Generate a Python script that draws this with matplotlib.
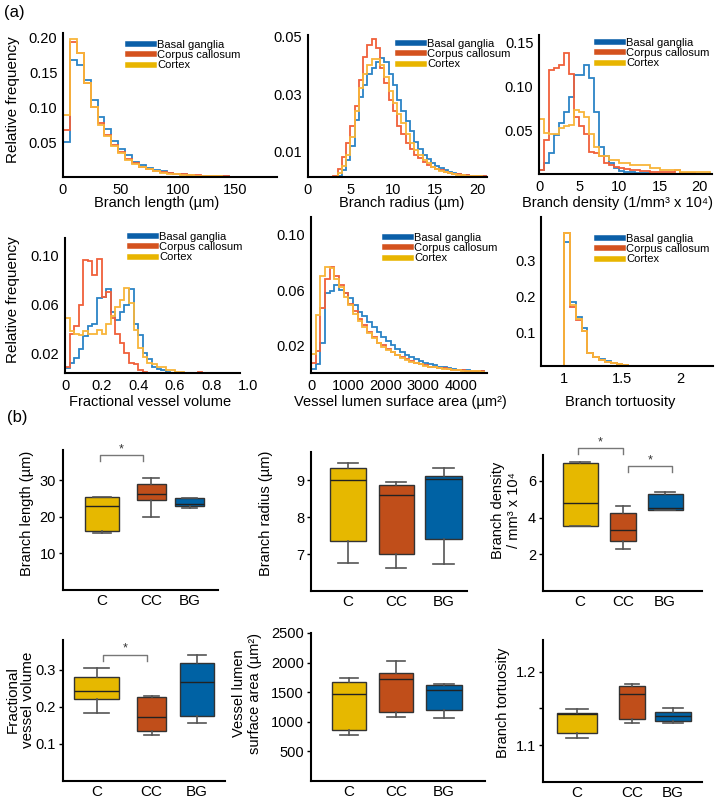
import numpy as np
import matplotlib.pyplot as plt
from matplotlib.lines import Line2D

plt.rcParams['font.family'] = ['Liberation Sans', 'DejaVu Sans']

# ---------------- data: histograms (relative frequency per bin) ----------------
groups = ['Basal ganglia', 'Corpus callosum', 'Cortex']

length_bins = (0, 6)  # start, width (um)
length_bg = [0.050, 0.168, 0.160, 0.139, 0.110, 0.086, 0.068, 0.051, 0.040, 0.031, 0.022, 0.017, 0.013, 0.010, 0.008,
             0.006, 0.005, 0.004, 0.003, 0.002, 0.002, 0.0015, 0.001, 0.001, 0.0007, 0.0005, 0.0004, 0.0003, 0.0002, 0.0002]
length_cc = [0.067, 0.193, 0.177, 0.134, 0.100, 0.077, 0.060, 0.046, 0.036, 0.026, 0.020, 0.015, 0.012, 0.009, 0.007,
             0.006, 0.005, 0.004, 0.003, 0.0025, 0.002, 0.0015, 0.001, 0.001, 0.0007, 0.0005, 0.0004, 0.0003, 0.0002, 0.0002]
length_cx = [0.089, 0.197, 0.178, 0.135, 0.100, 0.075, 0.058, 0.044, 0.034, 0.025, 0.019, 0.015, 0.011, 0.008, 0.006,
             0.005, 0.004, 0.003, 0.0025, 0.002, 0.0015, 0.001, 0.001, 0.0007, 0.0005, 0.0004, 0.0003, 0.0002, 0.0002, 0.0001]

radius_bins = (2.5, 0.5)
radius_bg = [0.0001, 0.0005, 0.0015, 0.0035, 0.007, 0.012, 0.021, 0.029, 0.033, 0.037, 0.039, 0.041, 0.0425, 0.041,
             0.037, 0.033, 0.028, 0.024, 0.0205, 0.017, 0.0135, 0.011, 0.009, 0.0073, 0.006, 0.005, 0.0043, 0.0036,
             0.003, 0.0026, 0.0023, 0.002, 0.0018, 0.0017, 0.0016, 0.0015, 0.0014]
radius_cc = [0.0005, 0.0015, 0.004, 0.008, 0.013, 0.019, 0.026, 0.035, 0.043, 0.047, 0.049, 0.046, 0.039, 0.034,
             0.028, 0.024, 0.019, 0.016, 0.013, 0.011, 0.009, 0.0078, 0.0065, 0.0055, 0.0047, 0.004, 0.0035, 0.003,
             0.0027, 0.0024, 0.0022, 0.002, 0.0018, 0.0017, 0.0016, 0.0015, 0.0014]
radius_cx = [0.0002, 0.001, 0.0025, 0.005, 0.009, 0.015, 0.024, 0.032, 0.037, 0.040, 0.042, 0.042, 0.040, 0.036,
             0.031, 0.027, 0.023, 0.020, 0.016, 0.013, 0.0105, 0.0088, 0.0072, 0.006, 0.0048, 0.004, 0.0034, 0.0029,
             0.0025, 0.0022, 0.002, 0.0018, 0.0017, 0.0016, 0.0015, 0.0014, 0.0013]

density_bins = (0, 0.625)
density_bg = [0.006, 0.013, 0.025, 0.045, 0.059, 0.072, 0.089, 0.114, 0.114, 0.125, 0.110, 0.072, 0.032, 0.021, 0.013,
              0.008, 0.004, 0.003, 0.003, 0.002, 0.002, 0.002, 0.001, 0.001, 0.001, 0.001, 0.001, 0.001, 0.001, 0.0005,
              0.0005, 0.0005, 0.0005, 0.0005]
density_cc = [0.006, 0.040, 0.119, 0.121, 0.125, 0.138, 0.115, 0.066, 0.055, 0.047, 0.026, 0.025, 0.021, 0.013, 0.011,
              0.009, 0.008, 0.007, 0.006, 0.005, 0.004, 0.004, 0.003, 0.003, 0.003, 0.003, 0.003, 0.005, 0.002, 0.002,
              0.002, 0.001, 0.001, 0.001]
density_cx = [0.064, 0.048, 0.047, 0.047, 0.053, 0.055, 0.057, 0.074, 0.072, 0.066, 0.047, 0.032, 0.021, 0.021, 0.017,
              0.017, 0.013, 0.013, 0.011, 0.011, 0.011, 0.011, 0.0076, 0.0076, 0.005, 0.005, 0.005, 0.005, 0.003, 0.003,
              0.003, 0.003, 0.003, 0.003]

volume_bins = (0, 0.025)
volume_bg = [0.008, 0.012, 0.016, 0.023, 0.034, 0.042, 0.044, 0.065, 0.066, 0.072, 0.054, 0.047, 0.054, 0.059, 0.072,
             0.044, 0.035, 0.020, 0.015, 0.009, 0.007, 0.006, 0.005, 0.004, 0.004, 0.004, 0.004, 0.0035, 0.0035, 0.003,
             0.003, 0.003, 0.002, 0.002, 0.002, 0.002, 0.002, 0.002]
volume_cc = [0.009, 0.036, 0.042, 0.059, 0.096, 0.095, 0.084, 0.097, 0.066, 0.070, 0.049, 0.036, 0.028, 0.020, 0.012,
             0.011, 0.0065, 0.005, 0.004, 0.004, 0.004, 0.0035, 0.003, 0.003, 0.003, 0.003, 0.003, 0.003, 0.003, 0.005,
             0.004, 0.003, 0.002, 0.002, 0.002, 0.002, 0.002, 0.002]
volume_cx = [0.049, 0.038, 0.036, 0.035, 0.038, 0.036, 0.036, 0.039, 0.036, 0.044, 0.050, 0.058, 0.063, 0.073, 0.061,
             0.039, 0.024, 0.017, 0.012, 0.011, 0.009, 0.009, 0.0065, 0.0065, 0.005, 0.005, 0.004, 0.004, 0.004, 0.0035,
             0.0035, 0.0035, 0.003, 0.003, 0.003, 0.002, 0.002, 0.002]

area_bins = (0, 125)
area_bg = [0.003, 0.0067, 0.022, 0.058, 0.0595, 0.064, 0.060, 0.058, 0.054, 0.049, 0.044, 0.041, 0.037, 0.033, 0.030,
           0.026, 0.023, 0.020, 0.0176, 0.015, 0.0132, 0.0115, 0.0098, 0.0086, 0.0074, 0.0064, 0.0055, 0.0047, 0.004,
           0.0035, 0.003, 0.0025, 0.0023, 0.002, 0.0018, 0.0016, 0.0013]
area_cc = [0.007, 0.016, 0.047, 0.068, 0.077, 0.070, 0.064, 0.058, 0.050, 0.045, 0.039, 0.035, 0.030, 0.026, 0.022,
           0.020, 0.0176, 0.015, 0.013, 0.0115, 0.0098, 0.0086, 0.0074, 0.0064, 0.0055, 0.0047, 0.0042, 0.0038, 0.0033,
           0.0028, 0.0025, 0.0023, 0.002, 0.0018, 0.0016, 0.0013, 0.0011]
area_cx = [0.014, 0.042, 0.070, 0.077, 0.076, 0.068, 0.062, 0.055, 0.049, 0.043, 0.038, 0.033, 0.029, 0.025, 0.022,
           0.019, 0.017, 0.015, 0.013, 0.011, 0.0095, 0.0083, 0.0072, 0.0062, 0.0054, 0.0047, 0.0041, 0.0036, 0.0031,
           0.0027, 0.0024, 0.0021, 0.0018, 0.0016, 0.0014, 0.0012, 0.001]

tort_bins = (1.0, 0.05)
tort_bg = [0.352, 0.185, 0.144, 0.112, 0.045, 0.033, 0.026, 0.021, 0.017, 0.013, 0.010, 0.008, 0.007, 0.006, 0.005,
           0.004, 0.004, 0.003, 0.003, 0.003, 0.002, 0.002, 0.001, 0.001, 0.001]
tort_cc = [0.377, 0.172, 0.136, 0.104, 0.043, 0.033, 0.025, 0.020, 0.016, 0.013, 0.010, 0.008, 0.007, 0.005, 0.005,
           0.006, 0.003, 0.003, 0.003, 0.003, 0.002, 0.002, 0.001, 0.001, 0.001]
tort_cx = [0.375, 0.178, 0.139, 0.106, 0.044, 0.032, 0.025, 0.020, 0.016, 0.013, 0.010, 0.008, 0.006, 0.005, 0.004,
           0.004, 0.003, 0.003, 0.003, 0.003, 0.002, 0.002, 0.001, 0.001, 0.001]

# ---------------- data: box plots (whislo, q1, med, q3, whishi) for C, CC, BG ----------------
categories = ['C', 'CC', 'BG']
box_length = [[15.5, 16.2, 23.0, 25.3, 25.5], [20.0, 24.6, 26.3, 29.0, 30.5], [22.4, 22.8, 23.6, 25.0, 25.2]]
box_radius = [[6.75, 7.36, 9.0, 9.32, 9.45], [6.61, 7.0, 8.61, 8.87, 8.94], [6.73, 7.42, 9.03, 9.11, 9.32]]
box_density = [[3.54, 3.54, 4.78, 6.95, 7.05], [2.29, 2.74, 3.32, 4.27, 4.63], [4.41, 4.41, 4.5, 5.27, 5.41]]
box_volume = [[0.185, 0.222, 0.244, 0.282, 0.305], [0.124, 0.136, 0.172, 0.228, 0.230], [0.156, 0.176, 0.268, 0.318, 0.340]]
box_area = [[780, 864, 1469, 1673, 1741], [1073, 1169, 1724, 1825, 2022], [1062, 1203, 1542, 1616, 1639]]
box_tort = [[1.110, 1.116, 1.142, 1.144, 1.149], [1.130, 1.136, 1.169, 1.181, 1.183], [1.130, 1.133, 1.140, 1.145, 1.151]]

# ---------------- styling ----------------
W, H = 720, 801
line_cols = ['#2b84c6', '#f0603a', '#f8b53a']
patch_cols = ['#0b5fa8', '#d4521e', '#e8b500']
box_cols = ['#e6b800', '#c04e1a', '#0062a4']

fig = plt.figure(figsize=(W / 100, H / 100), dpi=100)


def add_ax(l, t, r, b):
    return fig.add_axes([l / W, 1 - b / H, (r - l) / W, (b - t) / H])


def ftext(x, y, s, **kw):
    fig.text(x / W, 1 - y / H, s, **kw)


def hist_panel(rect, bins, series, xlim, ylim, xticks, xticklabels, yticks, yticklabels, leg_xy):
    ax = add_ax(*rect)
    start, width = bins
    for vals, col in zip(series, line_cols):
        edges = start + width * np.arange(len(vals) + 1)
        ax.stairs(vals, edges, color=col, lw=1.3)
    ax.set_xlim(*xlim)
    ax.set_ylim(*ylim)
    ax.set_xticks(xticks, xticklabels)
    ax.set_yticks(yticks, yticklabels)
    ax.tick_params(length=0, labelsize=10.5, pad=4)
    for s in ['top', 'right']:
        ax.spines[s].set_visible(False)
    for s in ['left', 'bottom']:
        ax.spines[s].set_linewidth(1.5)
    handles = [Line2D([], [], color=c, lw=4) for c in patch_cols]
    ax.legend(handles, groups, loc='upper left', bbox_to_anchor=(leg_xy[0] / W, 1 - leg_xy[1] / H),
              bbox_transform=fig.transFigure, frameon=False, fontsize=8, handlelength=2.3,
              handletextpad=0.3, labelspacing=0.02, borderpad=0, borderaxespad=0)
    return ax


def box_panel(rect, stats, centers, widths, ylim, yticks, yticklabels):
    l, t, r, b = rect
    ax = add_ax(*rect)
    bstats = [dict(whislo=s[0], q1=s[1], med=s[2], q3=s[3], whishi=s[4], fliers=[]) for s in stats]
    pos = [c - l for c in centers]
    art = ax.bxp(bstats, positions=pos, widths=widths, capwidths=[w * 0.55 for w in widths],
                 patch_artist=True, showfliers=False,
                 boxprops=dict(edgecolor='#333333', lw=1.0),
                 medianprops=dict(color='#222222', lw=1.0),
                 whiskerprops=dict(color='#555555', lw=1.2),
                 capprops=dict(color='#555555', lw=1.2))
    for p, c in zip(art['boxes'], box_cols):
        p.set_facecolor(c)
    ax.set_xlim(0, r - l)
    ax.set_ylim(*ylim)
    ax.set_xticks(pos, categories)
    ax.set_yticks(yticks, yticklabels)
    ax.tick_params(axis='x', length=0, labelsize=11, pad=3)
    ax.tick_params(axis='y', length=3, width=1, labelsize=10.5, pad=2)
    for s in ['top', 'right']:
        ax.spines[s].set_visible(False)
    for s in ['left', 'bottom']:
        ax.spines[s].set_linewidth(1.5)
    return ax


def bracket(ax, x1, x2, y_top, y_leg):
    ax.plot([x1, x1, x2, x2], [y_leg, y_top, y_top, y_leg], color='#777777', lw=1.0, clip_on=False)
    ax.text((x1 + x2) / 2, y_top, '*', ha='center', va='bottom', fontsize=9, color='#333333')


# ---------------- (a) histograms ----------------
hist_panel((63, 33, 277, 177), length_bins, [length_bg, length_cc, length_cx], (0, 186), (0, 0.206),
           [0, 50, 100, 150], ['0', '50', '100', '150'], [0.05, 0.10, 0.15, 0.20],
           ['0.05', '0.10', '0.15', '0.20'], (128, 40))
hist_panel((308, 35, 487, 177), radius_bins, [radius_bg, radius_cc, radius_cx], (0, 21.1), (0.0012, 0.0505),
           [0, 5, 10, 15, 20], ['0', '5', '10', '15', '20'], [0.01, 0.03, 0.05],
           ['0.01', '0.03', '0.05'], (398, 39))
hist_panel((539, 35, 712, 174), density_bins, [density_bg, density_cc, density_cx], (0, 21.5), (0.001, 0.159),
           [0, 5, 10, 15, 20], ['0', '5', '10', '15', '20'], [0.05, 0.10, 0.15],
           ['0.05', '0.10', '0.15'], (597, 38))
ax4 = hist_panel((65, 238, 248, 373), volume_bins, [volume_bg, volume_cc, volume_cx], (0, 1.0), (0.0038, 0.114),
                 [0, 0.2, 0.4, 0.6, 0.8, 1.0], ['0', '0.2', '0.4', '0.6', '0.8', '1.0'], [0.02, 0.06, 0.10],
                 ['0.02', '0.06', '0.10'], (130, 232))
ax4.spines['bottom'].set_bounds(0, 0.955)
hist_panel((311, 217, 487, 373), area_bins, [area_bg, area_cc, area_cx], (0, 4700), (0, 0.113),
           [0, 1000, 2000, 3000, 4000], ['0', '1000', '2000', '3000', '4000'], [0.02, 0.06, 0.10],
           ['0.02', '0.06', '0.10'], (385, 233))
hist_panel((541, 217, 713, 366), tort_bins, [tort_bg, tort_cc, tort_cx], (0.8, 2.28), (0.008, 0.42),
           [1, 1.5, 2], ['1', '1.5', '2'], [0.1, 0.2, 0.3], ['0.1', '0.2', '0.3'], (597, 234))

ftext(4, 13, '(a)', fontsize=12, va='center')
ftext(13, 100, 'Relative frequency', rotation=90, fontsize=11, ha='center', va='center')
ftext(13, 300, 'Relative frequency', rotation=90, fontsize=11, ha='center', va='center')
ftext(157, 203, 'Branch length (µm)', fontsize=10.5, ha='center', va='center')
ftext(402, 203, 'Branch radius (µm)', fontsize=10.5, ha='center', va='center')
ftext(617, 203, 'Branch density (1/mm³ x 10⁴)', fontsize=10.5, ha='center', va='center')
ftext(150, 402, 'Fractional vessel volume', fontsize=10.5, ha='center', va='center')
ftext(400, 402, 'Vessel lumen surface area (µm²)', fontsize=10.5, ha='center', va='center')
ftext(620, 402, 'Branch tortuosity', fontsize=10.5, ha='center', va='center')

# ---------------- (b) box plots ----------------
ax7 = box_panel((63, 450, 218, 590), box_length, [102, 151, 189.5], [34, 29, 29], (0, 38.2),
                [10, 20, 30], ['10', '20', '30'])
bracket(ax7, 100 - 63, 143 - 63, 36.8, 35.2)
box_panel((311, 452, 467, 591), box_radius, [348, 396, 443.5], [36, 35, 37], (6.0, 9.76),
          [7, 8, 9], ['7', '8', '9'])
ax9 = box_panel((543, 455, 702, 591), box_density, [580, 623, 665], [35, 26, 35], (0, 7.41),
                [2, 4, 6], ['2', '4', '6'])
bracket(ax9, 578 - 543, 623 - 543, 7.79, 7.47)
bracket(ax9, 628 - 543, 672 - 543, 6.81, 6.49)
ax10 = box_panel((63, 640, 225, 781), box_volume, [96.5, 151.5, 197], [45, 29, 34], (0, 0.381),
                 [0.1, 0.2, 0.3], ['0.1', '0.2', '0.3'])
bracket(ax10, 103 - 63, 147 - 63, 0.341, 0.324)
box_panel((311, 633, 485, 781), box_area, [349, 396, 444], [34, 34, 36], (0, 2500),
          [500, 1000, 1500, 2000, 2500], ['500', '1000', '1500', '2000', '2500'])
box_panel((543, 640, 702, 782), box_tort, [577, 632, 673], [40, 26, 36], (1.05, 1.243),
          [1.1, 1.15, 1.2], ['1.1', '', '1.2'])

ftext(7, 417, '(b)', fontsize=12, va='center')
ftext(27, 513, 'Branch length (µm)', rotation=90, fontsize=10.5, ha='center', va='center')
ftext(266, 513, 'Branch radius (µm)', rotation=90, fontsize=10.5, ha='center', va='center')
ftext(506, 510, 'Branch density\n/ mm³ x 10⁴', rotation=90, fontsize=10.5, ha='center', va='center',
      linespacing=1.1)
ftext(20, 700, 'Fractional\nvessel volume', rotation=90, fontsize=11, ha='center', va='center', linespacing=1.1)
ftext(247, 693, 'Vessel lumen\nsurface area (µm²)', rotation=90, fontsize=10.5, ha='center', va='center',
      linespacing=1.1)
ftext(503, 703, 'Branch tortuosity', rotation=90, fontsize=10.5, ha='center', va='center')

fig.savefig('out.png', dpi=100)
